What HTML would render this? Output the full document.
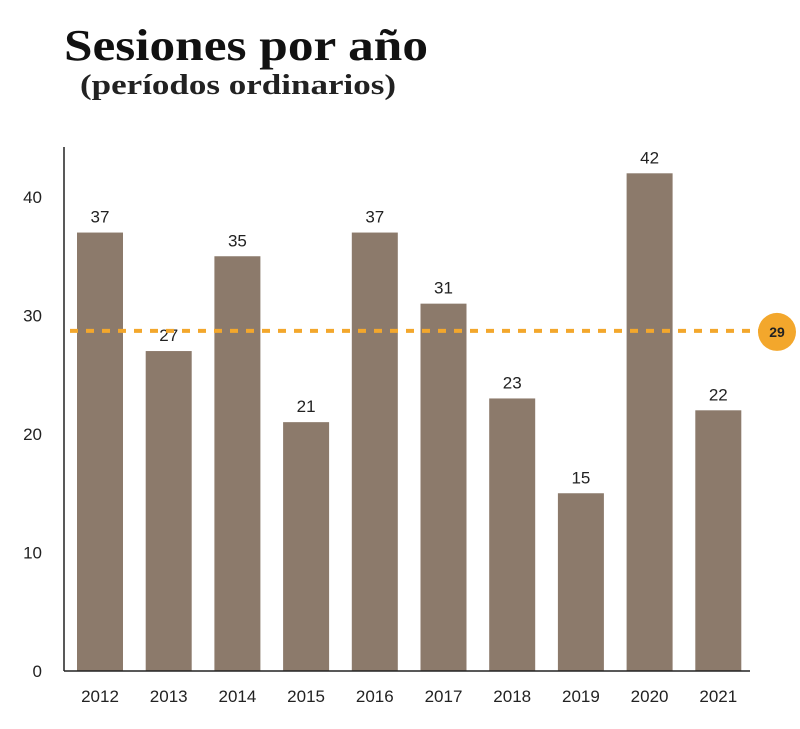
<!DOCTYPE html>
<html><head><meta charset="utf-8"><style>
html,body{margin:0;padding:0;background:#fff;}
svg{display:block;}
</style></head><body>
<svg id="chart" width="800" height="729" viewBox="0 0 800 729" xmlns="http://www.w3.org/2000/svg">
<text x="64" y="60" font-family="Liberation Serif, serif" font-weight="bold" font-size="44" fill="#111" textLength="364" lengthAdjust="spacingAndGlyphs">Sesiones por año</text>
<text x="80" y="94" font-family="Liberation Serif, serif" font-weight="bold" font-size="28" fill="#222" textLength="316" lengthAdjust="spacingAndGlyphs">(períodos ordinarios)</text>
<g id="grid"></g>
<g id="bars"></g>
<g id="axes"></g>
</svg>
<script>
const categories = ["2012","2013","2014","2015","2016","2017","2018","2019","2020","2021"];
const values = [37,27,35,21,37,31,23,15,42,22];
const yTicks = [0,10,20,30,40];
const averageValue = 28.7;
const averageLabel = "29";

const NS = "http://www.w3.org/2000/svg";
const x0 = 64, yBase = 671, pxPerUnit = 11.85, step = 68.7, barW = 46, firstBar = 77;
function y(v){ return yBase - v * pxPerUnit; }
function xBar(i){ return firstBar + i * step; }
function mk(tag, attrs, parent, text){
  const e = document.createElementNS(NS, tag);
  for (const k in attrs) e.setAttribute(k, attrs[k]);
  if (text !== undefined) e.textContent = text;
  parent.appendChild(e);
  return e;
}
const bars = document.getElementById('bars');
const axes = document.getElementById('axes');
const font = "Liberation Sans, sans-serif";

values.forEach((v, i) => {
  const r = mk('rect', {x: xBar(i), y: y(v), width: barW, height: yBase - y(v), fill: '#8c7a6b'}, bars);
  
  
  const t = mk('text', {x: xBar(i) + barW/2, y: y(v) - 10, 'text-anchor': 'middle', 'font-family': font, 'font-size': 17, fill: '#222'}, bars, String(v));
  
  
  const c = mk('text', {x: xBar(i) + barW/2, y: 702, 'text-anchor': 'middle', 'font-family': font, 'font-size': 17, fill: '#222'}, axes, categories[i]);
  
  
});

yTicks.forEach(v => {
  const t = mk('text', {x: 42, y: y(v) + 6, 'text-anchor': 'end', 'font-family': font, 'font-size': 17, fill: '#222'}, axes, String(v));
  
  
});

const ya = mk('line', {x1: x0, y1: 147, x2: x0, y2: yBase, stroke: '#222', 'stroke-width': 1.5}, axes);


const xa = mk('line', {x1: x0, y1: yBase, x2: 750, y2: yBase, stroke: '#222', 'stroke-width': 1.5}, axes);



const avgY = y(averageValue);
const al = mk('line', {x1: 70, y1: avgY, x2: 760, y2: avgY, stroke: '#f3a72c', 'stroke-width': 4, 'stroke-dasharray': '8 8'}, axes);


const ac = mk('circle', {cx: 777, cy: avgY + 1, r: 19, fill: '#f3a72c'}, axes);


const at = mk('text', {x: 777, y: avgY + 6, 'text-anchor': 'middle', 'font-family': font, 'font-weight': 'bold', 'font-size': 14, fill: '#222'}, axes, averageLabel);


</script>
</body></html>
